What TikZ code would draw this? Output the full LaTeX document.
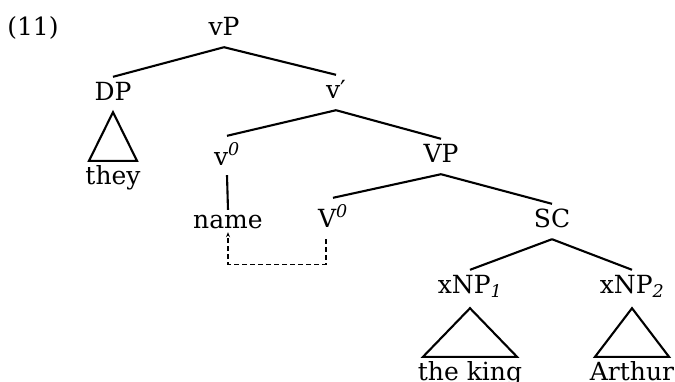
\documentclass[tikz,border=0pt]{standalone}
\usepackage{fontspec}
\setmainfont{DejaVu Serif}
\usetikzlibrary{arrows.meta,calc}
\begin{document}
\begin{tikzpicture}[x=1pt,y=-1pt,
  lab/.style={anchor=base,inner sep=0pt,text height=23pt,text depth=12pt,font=\fontsize{25}{29}\selectfont},
  suplab/.style={lab,text height=29pt},
  edge/.style={line width=2.1pt},
  tri/.style={line width=2.1pt,line join=miter},
  move/.style={line width=1.1pt,dash pattern=on 5pt off 3pt,-{Stealth[length=5pt,width=4pt]}}]
\useasboundingbox (0,0) rectangle (675,381);
\node[lab] (ex) at (33,35) {(11)};
\node[lab] (vP) at (224,35) {vP};
\node[lab] (DP) at (113,100) {DP};
\node[lab] (vbar) at (336,98) {v′};
\node[lab] (they) at (113,184) {they};
\node[suplab,text depth=10pt] (v0) at (227,165) {v\textsuperscript{\itshape 0}};
\node[lab] (VP) at (441,162) {VP};
\node[lab,text height=18pt] (name) at (228,228) {name};
\node[suplab] (V0) at (333,227) {V\textsuperscript{\itshape 0}};
\node[lab] (SC) at (552,227) {SC};
\node[lab] (xNP1) at (470,293) {xNP\textsubscript{\itshape 1}};
\node[lab] (xNP2) at (632,293) {xNP\textsubscript{\itshape 2}};
\node[lab] (king) at (470,380) {the king};
\node[lab] (arthur) at (632,380) {Arthur};
\draw[edge] (vP.south) -- (DP.north);
\draw[edge] (vP.south) -- (vbar.north);
\draw[edge] (vbar.south) -- (v0.north);
\draw[edge] (vbar.south) -- (VP.north);
\draw[edge] (v0.south) -- (name.north);
\draw[edge] (VP.south) -- (V0.north);
\draw[edge] (VP.south) -- (SC.north);
\draw[edge] (SC.south) -- (xNP1.north);
\draw[edge] (SC.south) -- (xNP2.north);
\draw[tri] (DP.south) -- ([xshift=-24pt]they.north) -- ([xshift=24pt]they.north) -- cycle;
\draw[tri] ([yshift=-3pt]xNP1.south) -- ([xshift=-47pt]king.north) -- ([xshift=47pt]king.north) -- cycle;
\draw[tri] ([yshift=-3pt]xNP2.south) -- ([xshift=-37pt]arthur.north) -- ([xshift=37pt]arthur.north) -- cycle;
\draw[move] ([xshift=-7pt]V0.south) -- ++(0,25) -| ($(name.south)+(0,-8)$);
\end{tikzpicture}
\end{document}
